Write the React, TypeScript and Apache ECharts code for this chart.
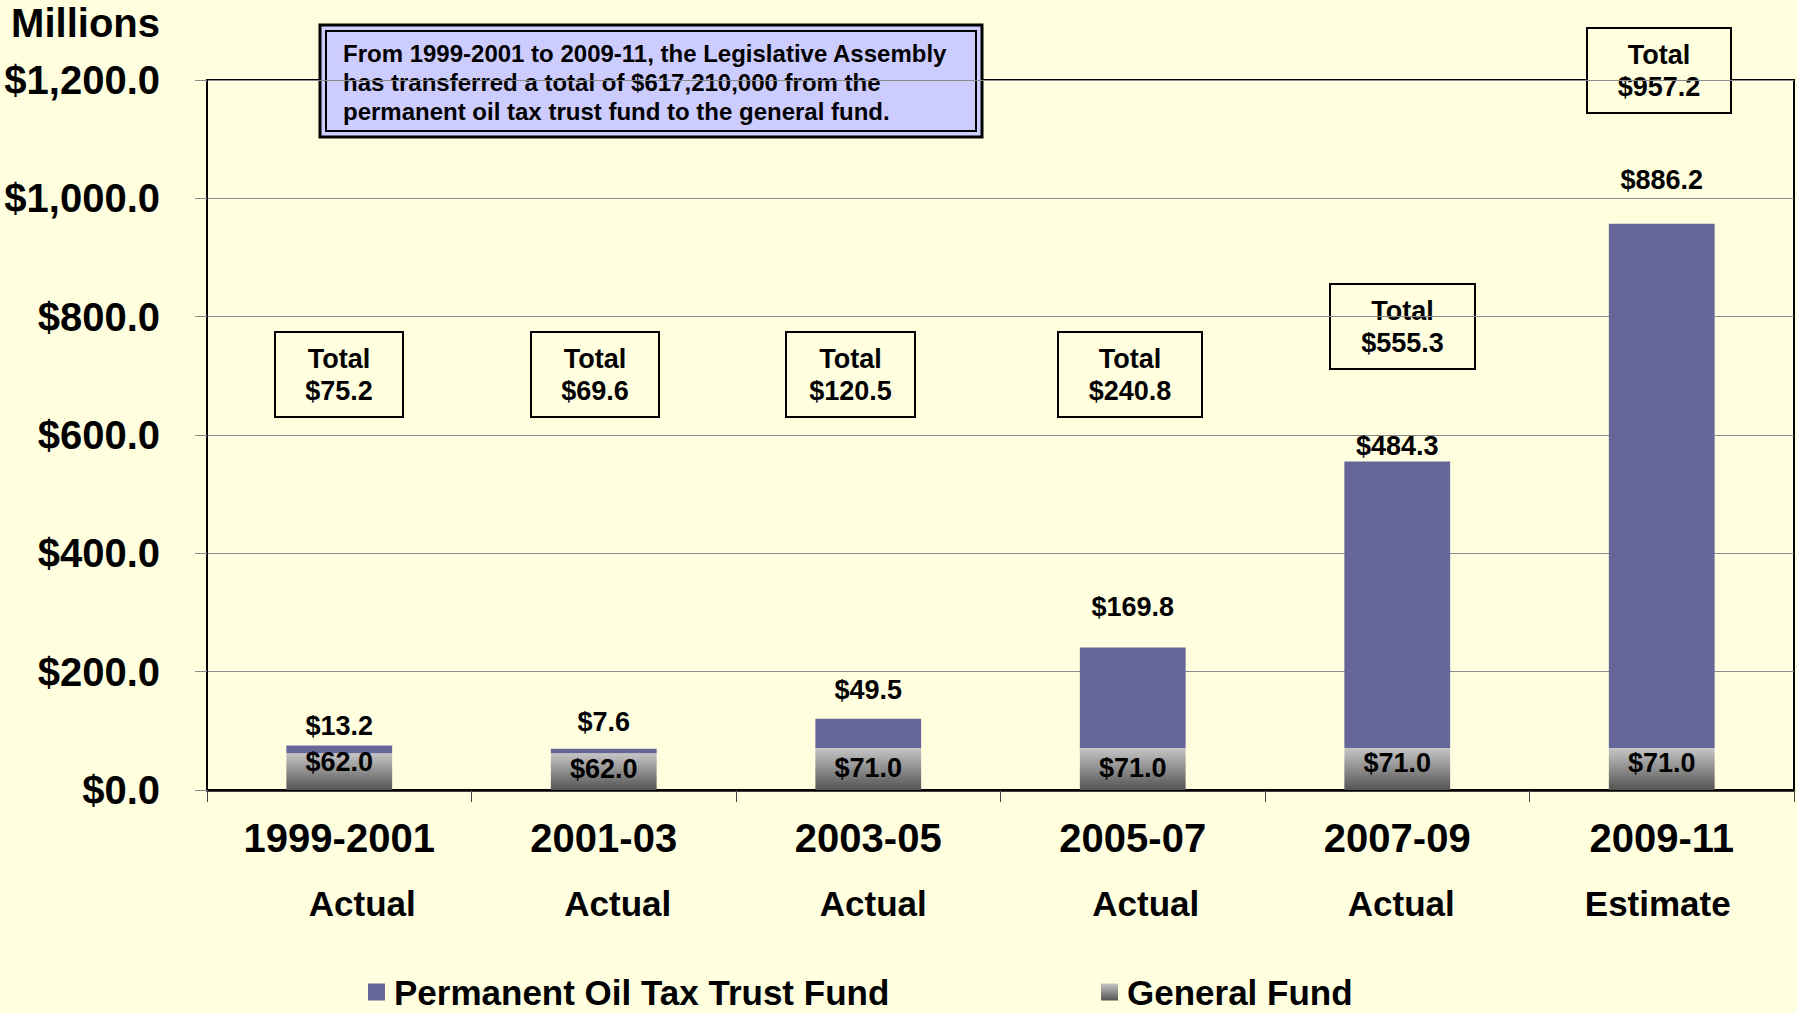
import React, { useEffect, useRef } from "react";
import * as echarts from "echarts";

// ---- data ----
const periods = ["1999-2001", "2001-03", "2003-05", "2005-07", "2007-09", "2009-11"];
const periodKinds = ["Actual", "Actual", "Actual", "Actual", "Actual", "Estimate"];
const generalFund = [62.0, 62.0, 71.0, 71.0, 71.0, 71.0];
const oilTrustFund = [13.2, 7.6, 49.5, 169.8, 484.3, 886.2];
const yAxisMin = 0;
const yAxisMax = 1200;
const yAxisStep = 200;
const seriesNames = ["Permanent Oil Tax Trust Fund", "General Fund"];
const noteLines = [
  "From 1999-2001 to 2009-11, the Legislative Assembly",
  "has transferred a total of $617,210,000 from the",
  "permanent oil tax trust fund to the general fund.",
];

// ---- placement / styling (not data) ----
const oilLabelDistance = [6, 13, 15, 27, 2, 30];
const gfLabelDy = [-10, -3, -1, -1, -6, -6];
const kindShift = [23, 14, 5, 13, 4, -4];
const totalBoxes = [
  { x: 275, y: 332, w: 128, h: 85 },
  { x: 531, y: 332, w: 128, h: 85 },
  { x: 786, y: 332, w: 129, h: 85 },
  { x: 1058, y: 332, w: 144, h: 85 },
  { x: 1330, y: 284, w: 145, h: 85 },
  { x: 1587, y: 28, w: 144, h: 85 },
];

const FONT = 'Arial, "Liberation Sans", Helvetica, sans-serif';
const BG = "#ffffe0";
const PURPLE = "#666699";

const money = (v: number) =>
  "$" + v.toLocaleString("en-US", { minimumFractionDigits: 1, maximumFractionDigits: 1 });

export default function App() {
  const ref = useRef<HTMLDivElement>(null);

  useEffect(() => {
    if (!ref.current) return;
    const chart = echarts.init(ref.current, undefined, { renderer: "svg" });

    const gfGradient = new echarts.graphic.LinearGradient(0, 0, 0, 1, [
      { offset: 0, color: "#c6c6c6" },
      { offset: 1, color: "#545454" },
    ]);

    const rich: any = {
      a: { fontFamily: FONT, fontSize: 40, fontWeight: "bold", color: "#000", lineHeight: 44 },
    };
    periods.forEach((_, i) => {
      const d = kindShift[i];
      rich["b" + i] = {
        fontFamily: FONT,
        fontSize: 35,
        fontWeight: "bold",
        color: "#000",
        lineHeight: 86,
        padding: d >= 0 ? [0, 0, 0, 2 * d] : [0, -2 * d, 0, 0],
      };
    });

    const graphics: any[] = [
      {
        type: "text",
        x: 160,
        y: 23,
        z: 100,
        style: {
          text: "Millions",
          font: `bold 40px ${FONT}`,
          fill: "#000",
          align: "right",
          verticalAlign: "middle",
        },
      },
      {
        type: "group",
        z: 100,
        children: [
          {
            type: "rect",
            shape: { x: 320, y: 25, width: 662, height: 112 },
            style: { fill: "#ccccff", stroke: "#000", lineWidth: 3 },
          },
          {
            type: "rect",
            shape: { x: 326, y: 31, width: 650, height: 100 },
            style: { fill: "#ccccff", stroke: "#000", lineWidth: 2 },
          },
          ...noteLines.map((t, i) => ({
            type: "text",
            x: 343,
            y: 53 + i * 29,
            style: {
              text: t,
              font: `bold 24px ${FONT}`,
              fill: "#000",
              align: "left",
              verticalAlign: "middle",
            },
          })),
        ],
      },
      ...totalBoxes.map((b, i) => ({
        type: "group",
        z: 100,
        children: [
          {
            type: "rect",
            shape: { x: b.x, y: b.y, width: b.w, height: b.h },
            style: { fill: BG, stroke: "#000", lineWidth: 2 },
          },
          {
            type: "text",
            x: b.x + b.w / 2,
            y: b.y + b.h / 2 - 16,
            style: {
              text: "Total",
              font: `bold 27px ${FONT}`,
              fill: "#000",
              align: "center",
              verticalAlign: "middle",
            },
          },
          {
            type: "text",
            x: b.x + b.w / 2,
            y: b.y + b.h / 2 + 16,
            style: {
              text: money(Math.round((generalFund[i] + oilTrustFund[i]) * 10) / 10),
              font: `bold 27px ${FONT}`,
              fill: "#000",
              align: "center",
              verticalAlign: "middle",
            },
          },
        ],
      })),
    ];

    const legendText = {
      fontFamily: FONT,
      fontSize: 35,
      fontWeight: "bold",
      color: "#000",
      lineHeight: 36,
      padding: [0, 0, 0, 4],
    };

    chart.setOption({
      animation: false,
      backgroundColor: BG,
      textStyle: { fontFamily: FONT },
      grid: {
        left: 207,
        right: 3,
        top: 80,
        bottom: 223,
        show: true,
        borderColor: "#000",
        borderWidth: 2,
        backgroundColor: "transparent",
      },
      legend: [
        {
          left: 363,
          top: 969,
          icon: "rect",
          itemWidth: 17,
          itemHeight: 17,
          selectedMode: false,
          data: [{ name: seriesNames[0], itemStyle: { color: PURPLE } }],
          textStyle: legendText,
        },
        {
          left: 1096,
          top: 969,
          icon: "rect",
          itemWidth: 17,
          itemHeight: 17,
          selectedMode: false,
          data: [{ name: seriesNames[1] }],
          textStyle: legendText,
        },
      ],
      xAxis: {
        type: "category",
        data: periods,
        boundaryGap: true,
        axisLine: { show: true, lineStyle: { color: "#000", width: 2.5 } },
        axisTick: { show: true, length: 12, lineStyle: { color: "#444", width: 1 } },
        axisLabel: {
          interval: 0,
          margin: 26,
          formatter: (v: string, i: number) => `{a|${v}}\n{b${i}|${periodKinds[i]}}`,
          rich,
        },
        splitLine: { show: false },
      },
      yAxis: {
        type: "value",
        min: yAxisMin,
        max: yAxisMax,
        interval: yAxisStep,
        axisLine: { show: true, lineStyle: { color: "#000", width: 2 } },
        axisTick: { show: true, length: 12, lineStyle: { color: "#888", width: 1 } },
        axisLabel: {
          margin: 47,
          fontFamily: FONT,
          fontSize: 40,
          fontWeight: "bold",
          color: "#000",
          formatter: (v: number) => money(v),
        },
        splitLine: { show: true, lineStyle: { color: "#8a8a8a", width: 1 } },
      },
      series: [
        {
          name: seriesNames[1],
          type: "bar",
          stack: "funds",
          barWidth: "40%",
          itemStyle: { color: gfGradient },
          data: generalFund.map((v, i) => ({
            value: v,
            label: { offset: [0, gfLabelDy[i]] },
          })),
          label: {
            show: true,
            position: "inside",
            fontFamily: FONT,
            fontSize: 27,
            fontWeight: "bold",
            color: "#000",
            formatter: (p: any) => money(p.value),
          },
        },
        {
          name: seriesNames[0],
          type: "bar",
          stack: "funds",
          barWidth: "40%",
          itemStyle: { color: PURPLE },
          data: oilTrustFund.map((v, i) => ({
            value: v,
            label: { distance: oilLabelDistance[i] },
          })),
          label: {
            show: true,
            position: "top",
            fontFamily: FONT,
            fontSize: 27,
            fontWeight: "bold",
            color: "#000",
            formatter: (p: any) => money(p.value),
          },
        },
      ],
      graphic: graphics,
    });

    return () => chart.dispose();
  }, []);

  return (
    <div
      ref={ref}
      style={{ position: "absolute", left: 0, top: 0, width: 1797, height: 1013 }}
    />
  );
}
